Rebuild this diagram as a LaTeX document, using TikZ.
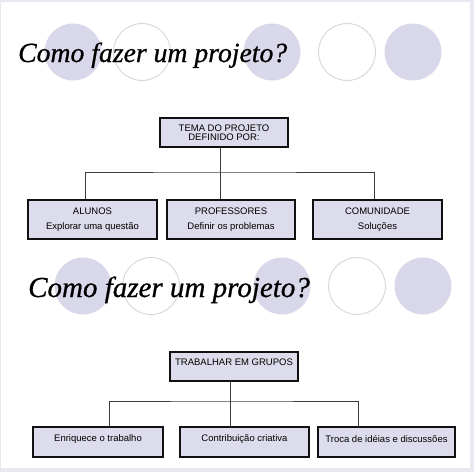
\documentclass[tikz,border=0pt]{standalone}
\usepackage{fontspec}
\setmainfont{Liberation Serif}
\setsansfont{Liberation Sans}
\newfontface\titleface{Liberation Serif Italic}[FakeBold=0.7]
\usetikzlibrary{positioning,calc}
\definecolor{ink}     {HTML}{111111}
\definecolor{wire}    {HTML}{3C3C3C}
\definecolor{boxbg}   {HTML}{DCDCEC}
\definecolor{dotbg}   {HTML}{D8D8EA}
\definecolor{ringgray}{HTML}{D6D6DE}
\definecolor{framebg} {HTML}{E8E8F1}
\tikzset{
  tbox/.style   ={draw=ink, fill=boxbg, line width=1.7pt,
                  align=center, font=\sffamily\fontsize{9.5}{15.5}\selectfont,
                  inner sep=0pt},
  conn/.style   ={draw=wire, line width=0.9pt},
  dot/.style    ={fill=dotbg},
  ring/.style   ={draw=ringgray, fill=white, line width=0.9pt},
  title/.style  ={font=\titleface\fontsize{27.7}{30}\selectfont, anchor=base west,
                  inner sep=0pt},
}
\begin{document}
\begin{tikzpicture}[x=1pt,y=-1pt]
  \useasboundingbox (0,0) rectangle (474,472);
  \fill[framebg] (0,0) rectangle (474,472);
  \fill[white] (1,2) rectangle (470,468);

  % first slide
  \fill[dot]  (73,52)  circle (28.5);
  \draw[ring] (142,52) circle (28.5);
  \fill[dot]  (272,52) circle (28.5);
  \draw[ring] (347,52) circle (28.5);
  \fill[dot]  (413,52) circle (28.5);
  \node[title] (t1) at (18,62) {Como fazer um projeto?};

  \node[tbox,minimum width=128pt,minimum height=29pt] (tema) at (224,132.5)
    {TEMA DO PROJETO\\[-6pt]DEFINIDO POR:};
  \node[tbox,minimum width=129pt,minimum height=39pt] (alunos) at (92.5,219.5)
    {ALUNOS\\Explorar uma questão};
  \node[tbox,minimum width=128pt,minimum height=39pt] (profs) at (231,219.5)
    {PROFESSORES\\Definir os problemas};
  \node[tbox,minimum width=129pt,minimum height=39pt] (comun) at (377.5,219.5)
    {COMUNIDADE\\Soluções};

  \coordinate (bus1) at (220,172);
  \draw[conn] ([xshift=-4pt]tema.south) -- (bus1);
  \draw[conn] ([xshift=-7.5pt]alunos.north) |- (bus1) -| ([xshift=-3.5pt]comun.north);
  \draw[conn] (bus1) -- ([xshift=-11pt]profs.north);

  % second slide
  \fill[dot]  (83,286)  circle (28.5);
  \draw[ring] (151,286) circle (28.5);
  \fill[dot]  (282,286) circle (28.5);
  \draw[ring] (357,286) circle (28.5);
  \fill[dot]  (423,286) circle (28.5);
  \node[title,font=\titleface\fontsize{29}{30}\selectfont] (t2) at (28,297)
    {Como fazer um projeto?};

  \node[tbox,minimum width=128pt,minimum height=29pt,text depth=8pt] (grupos) at (234,366.5)
    {TRABALHAR EM GRUPOS};
  \node[tbox,minimum width=130pt,minimum height=30pt,text depth=7pt] (enriq) at (98,442)
    {Enriquece o trabalho};
  \node[tbox,minimum width=129pt,minimum height=30pt,text depth=7pt] (contrib) at (244.5,442)
    {Contribuição criativa};
  \node[tbox,minimum width=137pt,minimum height=30pt,text depth=7pt] (troca) at (386.5,442)
    {Troca de idéias e discussões};

  \coordinate (bus2) at (230,401);
  \draw[conn] ([xshift=-4pt]grupos.south) -- (bus2);
  \draw[conn] ([xshift=11pt]enriq.north) |- (bus2) -| ([xshift=-28.5pt]troca.north);
  \draw[conn] (bus2) -- ([xshift=-14.5pt]contrib.north);
\end{tikzpicture}
\end{document}
